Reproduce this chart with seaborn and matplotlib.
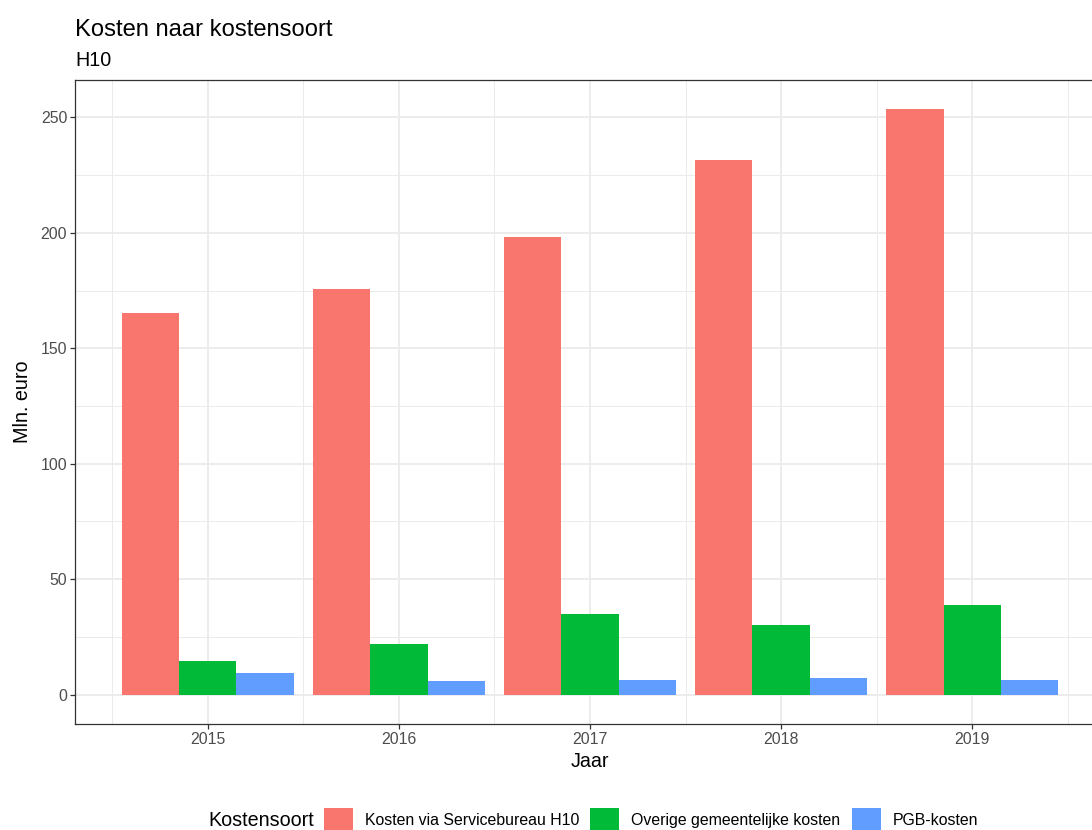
import numpy as np
import pandas as pd
import seaborn as sns
import matplotlib.pyplot as plt
from matplotlib.patches import Patch
from matplotlib.ticker import MultipleLocator

# data (Mln. euro)
jaren = [2015, 2016, 2017, 2018, 2019]
soorten = ['Kosten via Servicebureau H10', 'Overige gemeentelijke kosten', 'PGB-kosten']
servicebureau = [165.2, 175.6, 198.1, 231.4, 253.5]
overige = [14.7, 21.8, 35.0, 30.1, 38.9]
pgb = [9.4, 6.0, 6.5, 7.1, 6.5]
kleuren = ['#F8766D', '#00BA38', '#619CFF']

df = pd.DataFrame({
	'Jaar': jaren * 3,
	'Kostensoort': [soorten[0]] * 5 + [soorten[1]] * 5 + [soorten[2]] * 5,
	'Waarde': servicebureau + overige + pgb,
})

sns.set_theme(style='white')
plt.rcParams['font.family'] = ['Liberation Sans', 'DejaVu Sans']
plt.rcParams['text.color'] = 'black'

W, H = 1092, 830
fig = plt.figure(figsize=(W / 100, H / 100), dpi=100)
left, right, top, bottom = 75, 1105, 80, 724
ax = fig.add_axes([left / W, 1 - bottom / H, (right - left) / W, (bottom - top) / H])

sns.barplot(data=df, x='Jaar', y='Waarde', hue='Kostensoort', hue_order=soorten,
	palette=kleuren, width=0.9, gap=0, linewidth=0, saturation=1, ax=ax, legend=False)

# ggplot theme_bw look
ax.set_xlim(-0.695, 4.695)
ax.set_ylim(-12.7, 266.2)
ax.yaxis.set_major_locator(MultipleLocator(50))
ax.yaxis.set_minor_locator(MultipleLocator(25))
ax.set_xticks(range(5), [str(j) for j in jaren])
ax.set_xticks(np.arange(-0.5, 5.0, 1.0), minor=True)
ax.grid(True, which='major', color='#EBEBEB', linewidth=1.3)
ax.grid(True, which='minor', color='#EBEBEB', linewidth=0.7)
ax.set_axisbelow(True)
for s in ax.spines.values():
	s.set_color('#333333')
	s.set_linewidth(0.9)
ax.tick_params(axis='both', which='major', length=3.6, width=0.9, color='#333333',
	labelcolor='#4D4D4D', labelsize=11.4, pad=2, bottom=True, left=True)
ax.tick_params(axis='both', which='minor', length=0)

ax.set_xlabel('Jaar', fontsize=14.2, color='black', labelpad=4)
ax.set_ylabel('Mln. euro', fontsize=14.2, color='black', labelpad=6)

fig.text(left / W, 1 - 36 / H, 'Kosten naar kostensoort', fontsize=17.1, ha='left', va='baseline', color='black')
fig.text(left / W, 1 - 66 / H, 'H10', fontsize=14.2, ha='left', va='baseline', color='black')

# legend at the bottom with title on the left
fig.text(208 / W, 1 - 826 / H, 'Kostensoort', fontsize=14.2, ha='left', va='baseline', color='black')
handles = [Patch(facecolor=c, edgecolor='none') for c in kleuren]
leg = fig.legend(handles, soorten, loc='center left', bbox_to_anchor=(324 / W, 1 - 819.5 / H),
	ncol=3, frameon=False, fontsize=11.4, handlelength=1.83, handleheight=1.83,
	handletextpad=0.76, columnspacing=0.7, borderpad=0, borderaxespad=0)
for t in leg.get_texts():
	t.set_color('black')

fig.savefig('out.png', dpi=100)
